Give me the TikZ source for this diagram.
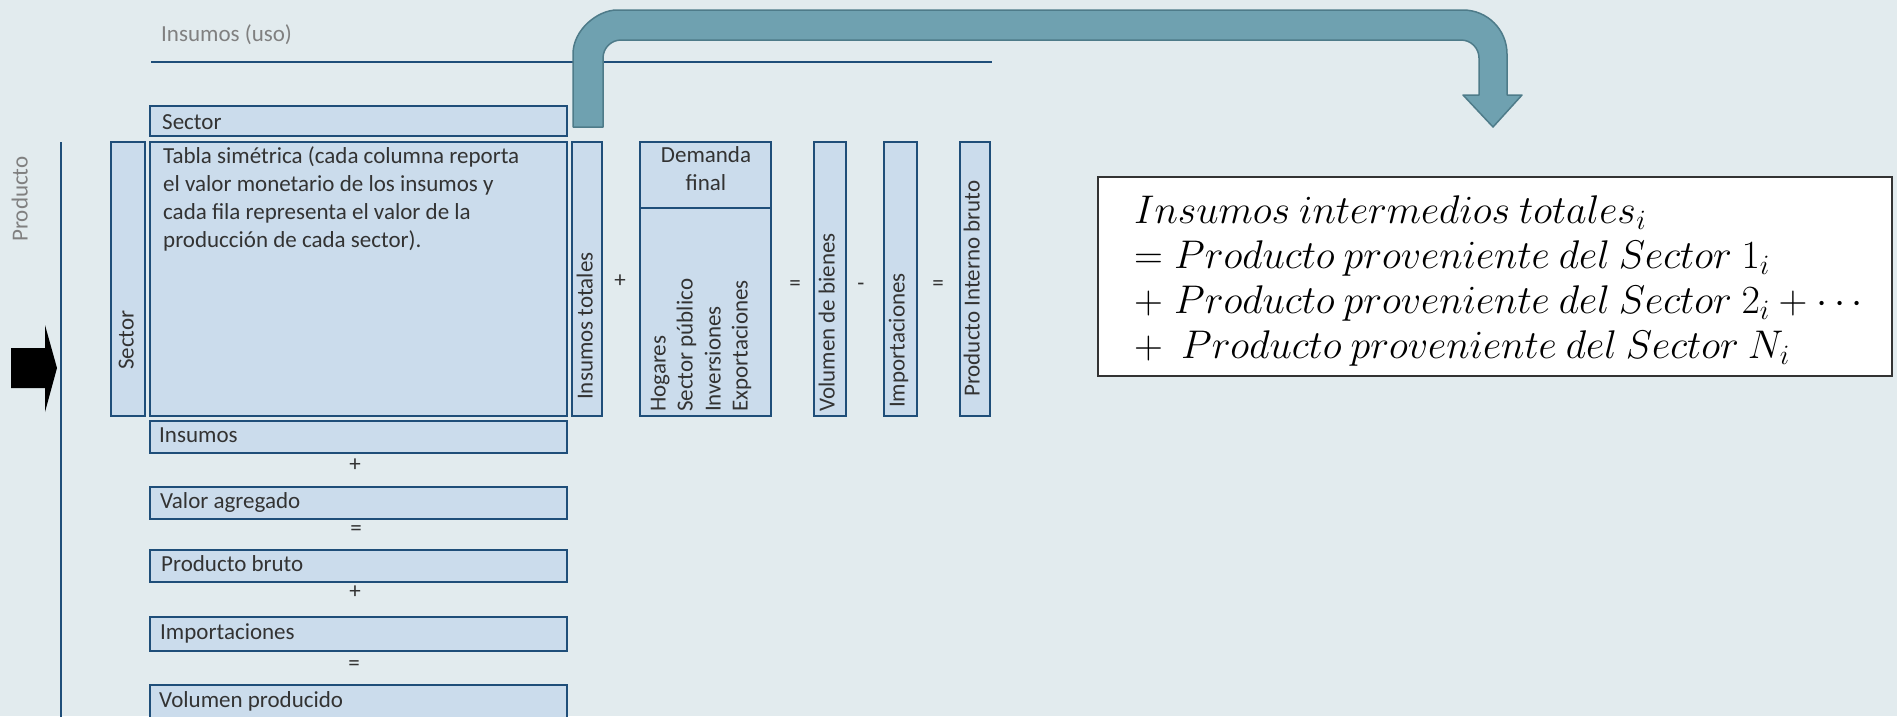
\RequirePackage{fix-cm}
\documentclass[tikz,border=0pt]{standalone}
\usepackage[no-math]{fontspec}
\setmainfont{Carlito}
\definecolor{bg}{HTML}{E2EBEE}
\definecolor{boxfill}{HTML}{CBDCEC}
\definecolor{bdr}{HTML}{1F4E79}
\definecolor{txt}{HTML}{333333}
\definecolor{softgray}{HTML}{808080}
\definecolor{arrfill}{HTML}{6FA1B0}
\definecolor{arrline}{HTML}{4E7B89}
\tikzset{
  box/.style={draw=bdr, fill=boxfill, line width=2pt},
  lbl/.style={text=txt, inner sep=0pt, font=\fontsize{23}{28}\selectfont, text height=16pt, text depth=5pt},
  hlbl/.style={lbl, anchor=west},
  vlbl/.style={lbl, rotate=90, anchor=west},
  oplbl/.style={lbl, anchor=center},
  glbl/.style={text=softgray, inner sep=0pt, font=\fontsize{23}{28}\selectfont, text height=16pt, text depth=5pt},
  bline/.style={draw=bdr, line width=2pt},
  fml/.style={inner sep=0pt, anchor=base west, font=\fontsize{40}{46}\selectfont},
}
\begin{document}
\begin{tikzpicture}[x=1pt,y=-1pt]
\fill[bg] (0,0) rectangle (1897,716);
\useasboundingbox (0,0) rectangle (1897,716);

% header line and labels
\node[glbl, anchor=west] (uso) at (161,36) {Insumos (uso)};
\coordinate (u1) at (151,62);
\coordinate (u2) at (992,62);
\draw[bline] (u1) -- (u2);

\node[glbl, rotate=90] (prod) at (22,199) {Producto};
\coordinate (v1) at (61,142);
\coordinate (v2) at (61,720);
\draw[bline] (v1) -- (v2);

% black arrow
\fill[black] (11,348) -- (45,348) -- (45,325) -- (57,368) -- (45,412) -- (45,388) -- (11,388) -- cycle;

% boxes
\draw[box] (150,106) rectangle (567,136);
\draw[box] (111,142) rectangle (145,416);
\draw[box] (150,142) rectangle (567,416);
\draw[box] (572,142) rectangle (602,416);
\draw[box] (640,208) rectangle (771,416);
\draw[box] (640,142) rectangle (771,208);
\draw[box] (814,142) rectangle (846,416);
\draw[box] (884,142) rectangle (917,416);
\draw[box] (960,142) rectangle (990,416);
\draw[box] (150,421) rectangle (567,453);
\draw[box] (150,487) rectangle (567,519);
\draw[box] (150,550) rectangle (567,582);
\draw[box] (150,617) rectangle (567,651);
\draw[box] (150,685) rectangle (567,730);

% texts in boxes
\node[hlbl] (secTop) at (162,124) {Sector};
\node[vlbl] (secLeft) at (128,370) {Sector};
\node[lbl, anchor=north west, align=left, text height=, text depth=] (tabla) at (163,146)
  {Tabla simétrica (cada columna reporta\\el valor monetario de los insumos y\\cada fila representa el valor de la\\producción de cada sector).};
\node[vlbl] (instot) at (587,400) {Insumos totales};
\node[oplbl] (op1) at (620,282) {+};
\node[lbl, align=center, text height=, text depth=] (dem) at (706,169) {Demanda\\final};
\node[vlbl] (hog) at (660,412) {Hogares};
\node[vlbl] (secpub) at (687,412) {Sector público};
\node[vlbl] (inv) at (715,412) {Inversiones};
\node[vlbl] (exp) at (742,412) {Exportaciones};
\node[oplbl] (op2) at (795,285) {=};
\node[vlbl] (volb) at (829,412) {Volumen de bienes};
\node[oplbl] (op3) at (861,285) {-};
\node[vlbl] (impv) at (899,408) {Importaciones};
\node[oplbl] (op4) at (938,285) {=};
\node[vlbl] (pib) at (974,397) {Producto Interno bruto};

\node[hlbl] (ins) at (159,437) {Insumos};
\node[oplbl] (op5) at (355,466) {+};
\node[hlbl] (va) at (160,503) {Valor agregado};
\node[oplbl] (op6) at (356,530) {=};
\node[hlbl] (pb) at (161,566) {Producto bruto};
\node[oplbl] (op7) at (355,593) {+};
\node[hlbl] (imph) at (160,634) {Importaciones};
\node[oplbl] (op8) at (354,665) {=};
\node[hlbl] (volp) at (159,702) {Volumen producido};

% big curved arrow
\draw[fill=arrfill, draw=arrline, line width=1.5pt, line join=round]
  (573,127) -- (573,54) .. controls (573,29.7) and (597.7,10) .. (617,10)
  -- (1463,10) .. controls (1487.3,10) and (1507,29.7) .. (1507,54)
  -- (1507,95) -- (1522,95) -- (1493,127) -- (1463,95) -- (1479,95)
  -- (1479,58) .. controls (1479,48.1) and (1470.9,40) .. (1461,40)
  -- (621,40) .. controls (611.1,40) and (603,48.1) .. (603,58)
  -- (603,127) -- cycle;

% formula box
\draw[fill=white, draw=black!80, line width=1.5pt] (1098,177) rectangle (1892,376);
\node[fml] (f1) at (1134,223) {$Insumos\ intermedios\ totales_i$};
\node[fml] (f2) at (1134,268) {$= Producto\ proveniente\ del\ Sector\ 1_i$};
\node[fml] (f3) at (1134,313) {$+\; Producto\ proveniente\ del\ Sector\ 2_i + \cdots$};
\node[fml] (f4) at (1134,358) {$+\ \ Producto\ proveniente\ del\ Sector\ N_i$};
\end{tikzpicture}
\end{document}
